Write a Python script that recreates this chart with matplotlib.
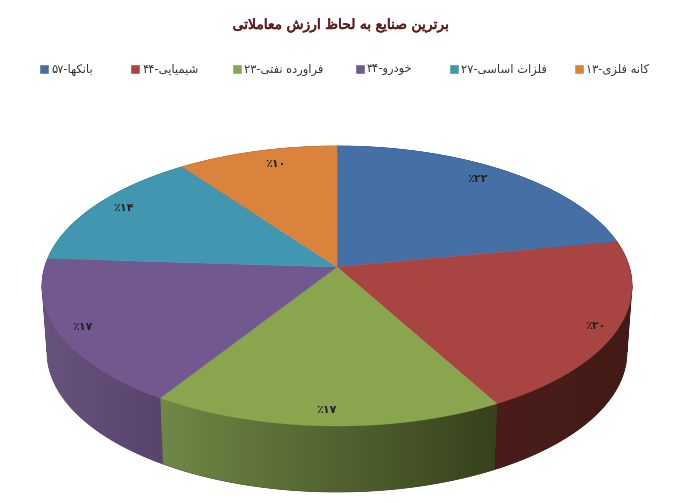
import numpy as np
import matplotlib
matplotlib.use("Agg")
import matplotlib.pyplot as plt
import matplotlib.patheffects as pe
from matplotlib.colors import to_rgb
from matplotlib.patches import Polygon, Rectangle

# chart data, clockwise from 12 o'clock
names = ["بانکها", "شیمیایی", "فراورده نفتی", "خودرو", "فلزات اساسی", "کانه فلزی"]
legend_values = ["۵۷", "۴۴", "۲۳", "۳۴", "۲۷", "۱۳"]
percents = [22, 20, 17, 17, 14, 10]
percent_labels = ["۲۲", "۲۰", "۱۷", "۱۷", "۱۴", "۱۰"]
colors = ["#4570a6", "#a84542", "#89a54e", "#71588f", "#4197af", "#d9833d"]
wall_left = ["#2f4d73", "#4a1d1a", "#708846", "#68537e", "#2d687a", "#96592a"]
wall_right = ["#2f4d73", "#431a17", "#37411c", "#58446c", "#2d687a", "#96592a"]
title = "برترین صنایع به لحاظ ارزش معاملاتی"

# (isolated, final, initial, medial) presentation forms
FORMS = {
    "ا": "\ufe8d\ufe8e", "ب": "\ufe8f\ufe90\ufe91\ufe92", "پ": "\ufb56\ufb57\ufb58\ufb59",
    "ت": "\ufe95\ufe96\ufe97\ufe98", "ح": "\ufea1\ufea2\ufea3\ufea4", "خ": "\ufea5\ufea6\ufea7\ufea8",
    "د": "\ufea9\ufeaa", "ذ": "\ufeab\ufeac", "ر": "\ufead\ufeae", "ز": "\ufeaf\ufeb0",
    "ژ": "\ufb8a\ufb8b", "س": "\ufeb1\ufeb2\ufeb3\ufeb4", "ش": "\ufeb5\ufeb6\ufeb7\ufeb8",
    "ص": "\ufeb9\ufeba\ufebb\ufebc", "ظ": "\ufec5\ufec6\ufec7\ufec8", "ع": "\ufec9\ufeca\ufecb\ufecc",
    "ف": "\ufed1\ufed2\ufed3\ufed4", "ق": "\ufed5\ufed6\ufed7\ufed8", "ک": "\ufb8e\ufb8f\ufb90\ufb91",
    "ل": "\ufedd\ufede\ufedf\ufee0", "م": "\ufee1\ufee2\ufee3\ufee4", "ن": "\ufee5\ufee6\ufee7\ufee8",
    "و": "\ufeed\ufeee", "ه": "\ufee9\ufeea\ufeeb\ufeec", "ی": "\ufbfc\ufbfd\ufbfe\ufbff",
    "ئ": "\ufe89\ufe8a\ufe8b\ufe8c",
}
LAM_ALEF = "\ufefb\ufefc"


# matplotlib has no arabic shaping, so pick the joined forms by hand and reverse
def shape(text):
    out = []
    i = 0
    prev_joins = False
    while i < len(text):
        ch = text[i]
        if ch not in FORMS:
            out.append(ch)
            prev_joins = False
            i += 1
            continue
        if ch == "ل" and i + 1 < len(text) and text[i + 1] == "ا":
            out.append(LAM_ALEF[1 if prev_joins else 0])
            prev_joins = False
            i += 2
            continue
        forms = FORMS[ch]
        next_ok = i + 1 < len(text) and text[i + 1] in FORMS
        can_join = len(forms) == 4
        if prev_joins and next_ok and can_join:
            out.append(forms[3])
        elif prev_joins:
            out.append(forms[1])
        elif next_ok and can_join:
            out.append(forms[2])
        else:
            out.append(forms[0])
        prev_joins = can_join
        i += 1
    return "".join(reversed(out))


# projected disc: back of the pie is further away, so the apex sits above the ellipse centre
CX, APEX_Y, W, A, C = 337.0, 267.0, 292.3, -101.2, 0.1357
DROP, SHRINK = 66.0, 0.983
# angles where the rim is widest, the wall outline runs straight down from there
SIDE_R = np.arccos(-C)
SIDE_L = 2 * np.pi - SIDE_R


def rim(theta, drop=0.0, shrink=1.0):
    s, c = np.sin(theta), np.cos(theta)
    d = 1 + C * c
    return CX + W * shrink * s / d, (A * c + APEX_Y) / d + drop


fig = plt.figure(figsize=(6.88, 5.03), dpi=100)
ax = fig.add_axes([0, 0, 1, 1])
ax.axis("off")

edges = np.concatenate([[0], np.cumsum(percents)]) / 100 * 2 * np.pi

# outer wall, a left to right gradient clipped to each slice's side
for i in range(len(percents)):
    cuts = [edges[i]] + [a for a in (SIDE_R, SIDE_L) if edges[i] < a < edges[i + 1]] + [edges[i + 1]]
    sx = rim(np.linspace(edges[i], edges[i + 1], 120))[0]
    x0, x1 = sx.min(), sx.max()
    grad = np.linspace(to_rgb(wall_left[i]), to_rgb(wall_right[i]), 200)[None, :, :]
    for a, b in zip(cuts[:-1], cuts[1:]):
        t = np.linspace(a, b, 120)
        tx, ty = rim(t)
        bx, by = rim(t, DROP, SHRINK)
        pts = np.column_stack([np.r_[tx, bx[::-1]], np.r_[ty, by[::-1]]])
        wall = Polygon(pts, closed=True, fc=wall_right[i], ec=wall_right[i], lw=0.5, zorder=1)
        ax.add_patch(wall)
        im = ax.imshow(grad, extent=(x0, x1, 503, 0), aspect="auto", interpolation="bilinear", zorder=1.5)
        im.set_clip_path(wall)

# top face
for i, col in enumerate(colors):
    t = np.linspace(edges[i], edges[i + 1], 120)
    xs, ys = rim(t)
    pts = np.column_stack([np.r_[CX, xs], np.r_[APEX_Y, ys]])
    ax.add_patch(Polygon(pts, closed=True, fc=col, ec=col, lw=0.3, zorder=2))

ax.set_xlim(0, 688)
ax.set_ylim(503, 0)

# data labels sit just inside the rim
label_pos = [(478, 179), (595, 326), (326, 410), (82, 327), (123, 208), (275, 164)]
for (x, y), lab in zip(label_pos, percent_labels):
    ax.text(x, y, "٪" + lab, ha="center", va="center", fontsize=8, fontweight="bold",
            color="#222222", family="DejaVu Sans", zorder=3)

# regular weight with a thin stroke keeps the title as narrow as the reference
ax.text(341, 25, shape(title), ha="center", va="center", fontsize=10,
        color="#5f1f1c", family="DejaVu Sans",
        path_effects=[pe.withStroke(linewidth=0.5, foreground="#5f1f1c")])

# legend runs left to right in the same order as the slices
swatch_x = [40, 131, 233, 356, 450, 575]
for x, name, val, col in zip(swatch_x, names, legend_values, colors):
    ax.add_patch(Rectangle((x, 65), 8, 8, fc=col, ec=col, lw=0.4))
    ax.text(x + 11, 69, val + "-" + shape(name), ha="left", va="center", fontsize=8.3,
            color="#333333", family="DejaVu Sans")

fig.savefig("out.png", dpi=100)
